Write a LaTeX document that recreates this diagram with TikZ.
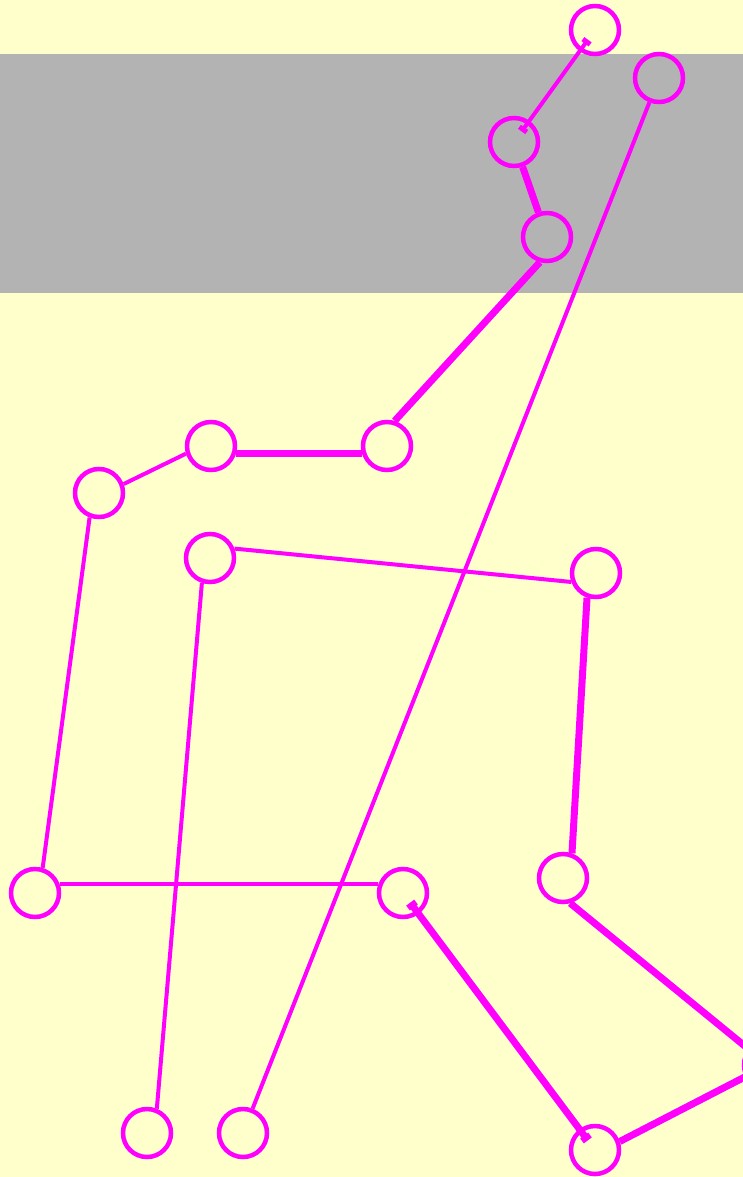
\documentclass[tikz,border=0pt]{standalone}
\usetikzlibrary{arrows.meta,calc}
\definecolor{bg}{HTML}{FFFFCC}
\definecolor{band}{HTML}{B3B3B3}
\definecolor{mag}{HTML}{FF00FF}
\begin{document}
\begin{tikzpicture}[x=1pt,y=-1pt,
  vtx/.style={circle,draw=mag,line width=4.5pt,minimum size=48pt,inner sep=0pt},
  ethin/.style={draw=mag,line width=4pt},
  ethick/.style={draw=mag,line width=7pt},
  stubthin/.style={{Rectangle[length=5pt,width=9pt]}-{Rectangle[length=5pt,width=9pt]}},
  stubthick/.style={{Rectangle[length=6pt,width=10pt]}-{Rectangle[length=6pt,width=10pt]}}]
\clip (0,0) rectangle (743,1177);
\fill[bg] (0,0) rectangle (743,1177);
\fill[band] (0,54) rectangle (743,293);
\node[vtx] (A) at (595,30) {};
\node[vtx] (B) at (659,78) {};
\node[vtx] (C) at (514,142) {};
\node[vtx] (D) at (547,237) {};
\node[vtx] (E) at (387,446) {};
\node[vtx] (F) at (211,446) {};
\node[vtx] (G) at (99,493) {};
\node[vtx] (H) at (210,558) {};
\node[vtx] (I) at (596,573) {};
\node[vtx] (J) at (563,878) {};
\node[vtx] (K) at (35,893) {};
\node[vtx] (L) at (403,893) {};
\node[vtx] (M) at (147,1133) {};
\node[vtx] (N) at (243,1133) {};
\node[vtx] (O) at (595,1150) {};
\node[vtx] (P) at (768,1065) {};
\draw[ethin,stubthin] ($(A)!12pt!(C)$) -- ($(C)!13pt!(A)$);
\draw[ethick] (C) -- (D);
\draw[ethick] (D.-106) -- (E.73);
\draw[ethick] (F.-17) -- (E.197);
\draw[ethin] (F.197) -- (G.20);
\draw[ethin] (G.-111) -- (K.73);
\draw[ethin] (K.19) -- (L.161);
\draw[ethick,stubthick] ($(L)!12pt!(O)$) -- ($(O)!12pt!(L)$);
\draw[ethick] (O.19) -- (P);
\draw[ethick] (J.-74) -- (P);
\draw[ethick] (I.-110) -- (J.70);
\draw[ethin] (H.21) -- (I.200);
\draw[ethin] (H.-108) -- (M.68);
\draw[ethin] (B) -- (N);
\end{tikzpicture}
\end{document}
